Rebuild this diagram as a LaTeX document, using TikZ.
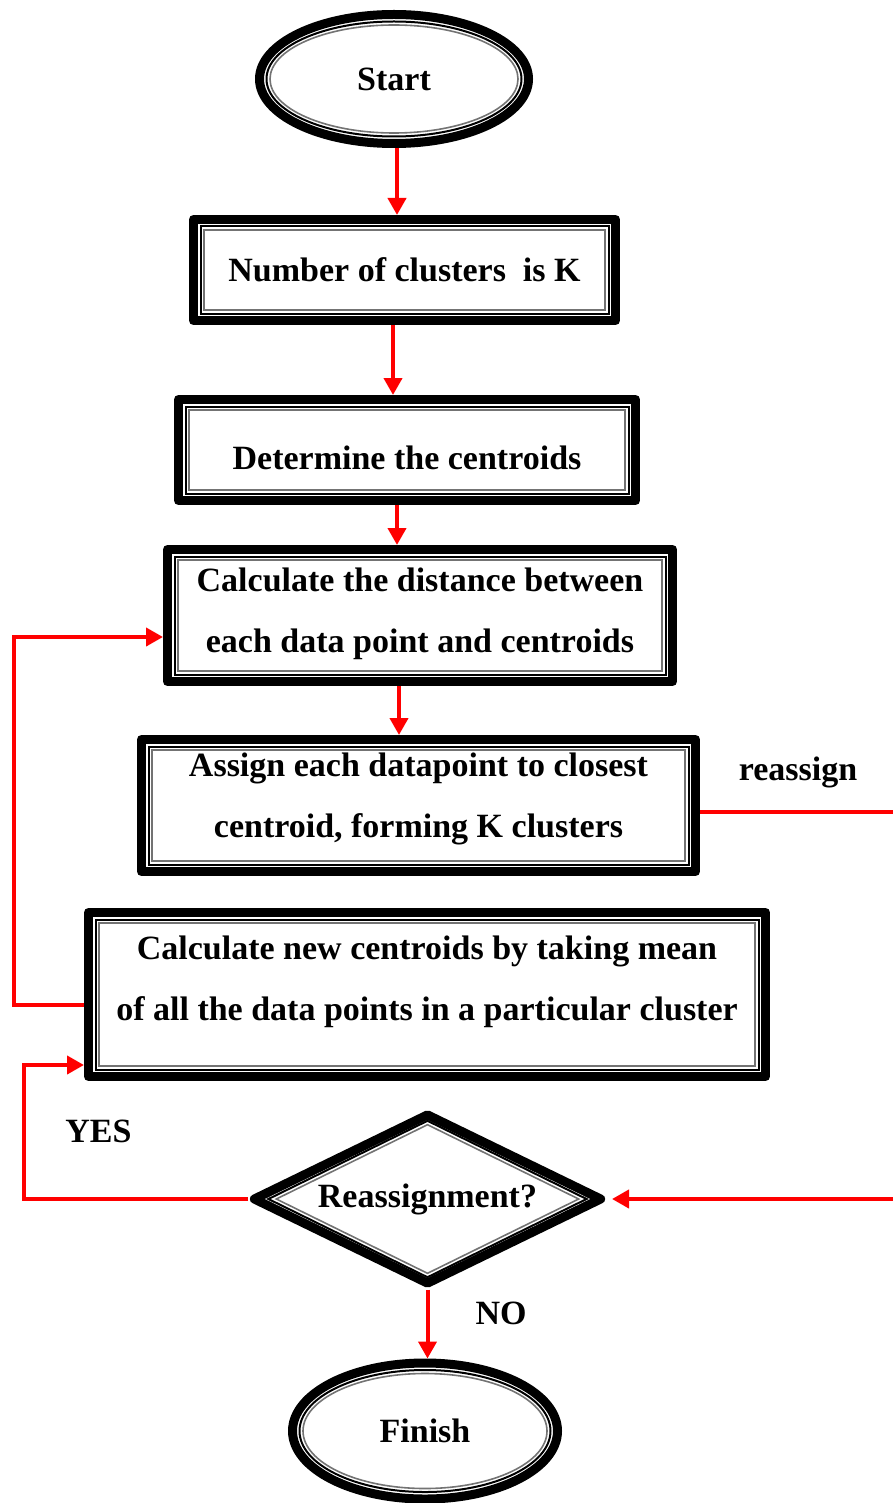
\documentclass[tikz,border=0pt]{standalone}
\usepackage{fontspec}
\setmainfont{Liberation Serif}
\usetikzlibrary{shapes.geometric,arrows.meta}

% inner double rule of a framed box (anchors sit on the outer edge of the frame)
\newcommand\boxrules[1]{%
  \draw[thinrule] ([shift={(11.5pt,-11.5pt)}]#1.north west) rectangle ([shift={(-11.5pt,11.5pt)}]#1.south east);
  \draw[grayrule] ([shift={(15pt,-15pt)}]#1.north west) rectangle ([shift={(-15pt,15pt)}]#1.south east);}
% inner double rule of an oval
\newcommand\ovalrules[3]{%
  \draw[thinrule] (#1.center) ellipse [x radius={#2pt-7pt}, y radius={#3pt-7pt}];
  \draw[grayrule] (#1.center) ellipse [x radius={#2pt-10.5pt}, y radius={#3pt-10.5pt}];}

\begin{document}
\begin{tikzpicture}[x=1pt,y=-1pt,
  every node/.style={font=\bfseries\fontsize{34}{61}\selectfont, inner sep=0pt},
  frame/.style={draw=black, line width=9pt, line join=round, fill=white, align=center},
  boxnode/.style={frame, rectangle},
  ovalnode/.style={frame, ellipse},
  decision/.style={frame, diamond, shape aspect=2},
  thinrule/.style={draw=black, line width=2pt},
  grayrule/.style={draw=black!55, line width=1.6pt},
  arr/.style={draw=red, line width=4pt, -{Triangle[length=17pt,width=18pt]}},
  tag/.style={font=\bfseries\fontsize{34}{40}\selectfont}]

\useasboundingbox (0,0) rectangle (893,1503);
\clip (0,0) rectangle (893,1503);

% terminals, process boxes and the decision
\node[ovalnode, minimum width=269pt, minimum height=129pt] (start) at (394,79) {Start};
\node[boxnode, minimum width=422pt, minimum height=101pt] (b1) at (404.5,270) {Number of clusters\ \ is K};
\node[boxnode, minimum width=457pt, minimum height=101pt, text height=39pt] (b2) at (407,450) {Determine the centroids};
\node[boxnode, minimum width=505pt, minimum height=132pt, text depth=11pt] (b3) at (420,615.5)
  {Calculate the distance between\\each data point and centroids};
\node[boxnode, minimum width=554pt, minimum height=132pt, text depth=20pt] (b4) at (418.5,805.5)
  {Assign each datapoint to closest\\centroid, forming K clusters};
\node[boxnode, minimum width=677pt, minimum height=164pt, text depth=32pt] (b5) at (427,994.5)
  {Calculate new centroids by taking mean\\of all the data points in a particular cluster};
\node[decision, minimum width=350pt, minimum height=172pt] (d) at (427.5,1199) {Reassignment?};
\node[ovalnode, minimum width=265pt, minimum height=136pt] (fin) at (425,1431) {Finish};

\ovalrules{start}{134.5}{64.5}
\ovalrules{fin}{132.5}{68}
\boxrules{b1}
\boxrules{b2}
\boxrules{b3}
\boxrules{b4}
\boxrules{b5}
\draw[thinrule] ([xshift=-159.1pt]d.center) -- ([yshift=78.2pt]d.center)
  -- ([xshift=159.1pt]d.center) -- ([yshift=-78.2pt]d.center) -- cycle;
\draw[grayrule] ([xshift=-151.2pt]d.center) -- ([yshift=74.3pt]d.center)
  -- ([xshift=151.2pt]d.center) -- ([yshift=-74.3pt]d.center) -- cycle;

% main flow
\coordinate (a1) at ([xshift=3pt]start.south);
\coordinate (a2) at ([xshift=-11.5pt]b1.south);
\coordinate (a3) at ([xshift=-10pt]b2.south);
\coordinate (a4) at ([xshift=-21pt]b3.south);
\draw[arr] (a1) -- (a1 |- b1.north);
\draw[arr] (a2) -- (a2 |- b2.north);
\draw[arr] (a3) -- (a3 |- b3.north);
\draw[arr] (a4) -- (a4 |- b4.north);
\draw[arr] (d.south) -- (d.south |- fin.north);

% feedback loops
\coordinate (l1) at ([yshift=-10.5pt]b5.west);
\coordinate (l2) at ([yshift=-21.5pt]b3.west);
\draw[arr] (l1) -- ++(-70,0) |- (l2);

\coordinate (l3) at ([yshift=-70.5pt]b5.west);
\draw[arr] (d.west) -- ++(-224,0) |- (l3);

\coordinate (l4) at ([yshift=-6.5pt]b4.east);
\draw[arr, shorten >=5pt] (l4) -- ++(197,0) |- (d.east);

% branch labels
\node[tag] (lre) at (798,772) {reassign};
\node[tag] (lyes) at (98.5,1131.5) {YES};
\node[tag] (lno) at (501,1313.5) {NO};
\end{tikzpicture}
\end{document}
